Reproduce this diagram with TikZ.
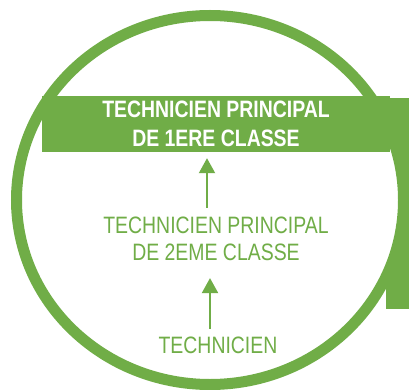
\documentclass[tikz,border=0pt]{standalone}
\usepackage{fontspec}
\setmainfont{Liberation Sans}[FakeStretch=0.82]
\usetikzlibrary{arrows.meta}
\definecolor{grn}{HTML}{70AD47}
\begin{document}
\begin{tikzpicture}[x=1pt,y=-1pt,
  banner/.style={fill=grn,text=white,inner sep=0pt,minimum width=348pt,minimum height=56pt,align=center,font=\bfseries\fontsize{23.7}{29}\selectfont},
  lbl/.style={text=grn,inner sep=0pt,align=center,font=\fontsize{23.7}{27}\selectfont},
  arr/.style={draw=grn,line width=2pt,-{Triangle[width=16pt,length=15pt]}}]
\useasboundingbox (0,0) rectangle (409,390);
\fill[grn] (386,98) rectangle (409,309);
\draw[grn,line width=11pt,fill=white] (210,200) ellipse [x radius=193.5,y radius=184.5];
\node[banner] (ban) at (216,124) {TECHNICIEN PRINCIPAL\\DE 1ERE CLASSE};
\node[lbl] (mid) at (216,239) {TECHNICIEN PRINCIPAL\\DE 2EME CLASSE};
\node[lbl] (bot) at (218,345.5) {TECHNICIEN};
\draw[arr,shorten >=6pt] ([xshift=-9pt,yshift=9pt]mid.north) -- ([xshift=-9pt]ban.south);
\draw[arr,shorten >=17pt] ([xshift=-8pt,yshift=8pt]bot.north) -- ([xshift=-6pt]mid.south);
\end{tikzpicture}
\end{document}
